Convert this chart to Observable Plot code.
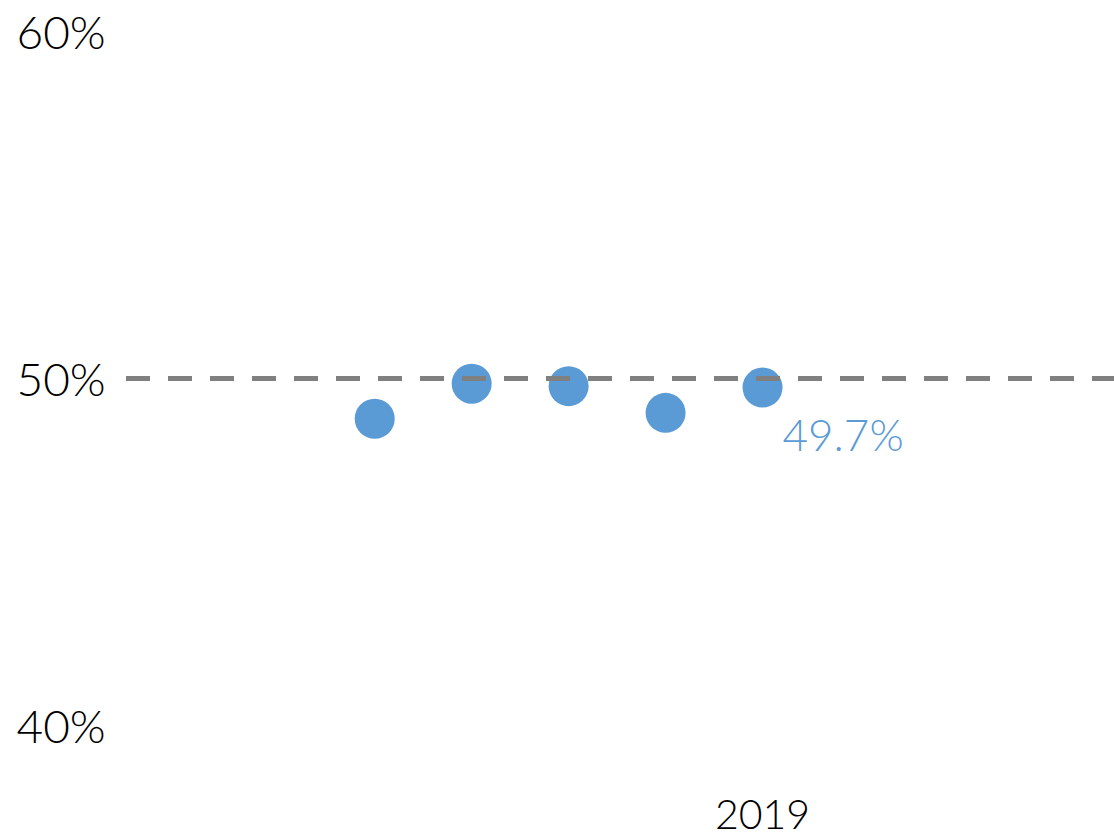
<!DOCTYPE html>
<html>
<head>
<meta charset="utf-8">
<script src="https://cdn.jsdelivr.net/npm/d3@7"></script>
<script src="https://cdn.jsdelivr.net/npm/@observablehq/plot@0.6"></script>
<style>
  html, body { margin: 0; padding: 0; background: #fff; }
  #chart svg { display: block; }
</style>
</head>
<body>
<div id="chart"></div>
<script>
// Data
const years = [2015, 2016, 2017, 2018, 2019];
const shares = [48.84, 49.85, 49.78, 49.01, 49.74];
const labelYear = 2019;
const labelText = "49.7%";
const referenceValue = 50;
const yTicks = [40, 50, 60];
const xTicks = [2019];
const xDomain = [2012.44, 2022.63];
const yDomain = [40, 60];

const data = years.map((y, i) => ({year: y, value: shares[i]}));
const labelData = data.filter(d => d.year === labelYear).map(d => ({...d, text: labelText}));

const blue = "#5b9bd5";
const font = "Lato, 'Open Sans', sans-serif";

const chart = Plot.plot({
  width: 1114,
  height: 839,
  marginLeft: 126,
  marginRight: 0,
  marginTop: 31,
  marginBottom: 114,
  style: {fontFamily: font, fontWeight: 300, color: "#000", background: "#fff"},
  x: {domain: xDomain, label: null},
  y: {domain: yDomain, label: null},
  marks: [
    Plot.axisY({
      ticks: yTicks,
      tickSize: 0,
      tickPadding: 0,
      textAnchor: "start",
      dx: -110,
      dy: 3,
      fontSize: 46,
      fontWeight: 300,
      tickFormat: d => d + "%",
      fill: "#000",
      label: null
    }),
    Plot.axisX({
      ticks: xTicks,
      tickSize: 0,
      tickPadding: 0,
      dy: 74,
      fontSize: 41,
      fontWeight: 300,
      tickFormat: d => String(d),
      fill: "#000",
      label: null
    }),
    Plot.dot(data, {x: "year", y: "value", r: 20, fill: blue, stroke: "none"}),
    Plot.ruleY([referenceValue], {stroke: "#808080", strokeWidth: 5, strokeDasharray: "24,18"}),
    Plot.text(labelData, {x: "year", y: "value", text: "text", fill: blue, fontSize: 44, fontWeight: 300, textAnchor: "start", dx: 20, dy: 49})
  ]
});

document.getElementById("chart").appendChild(chart);
</script>
</body>
</html>
